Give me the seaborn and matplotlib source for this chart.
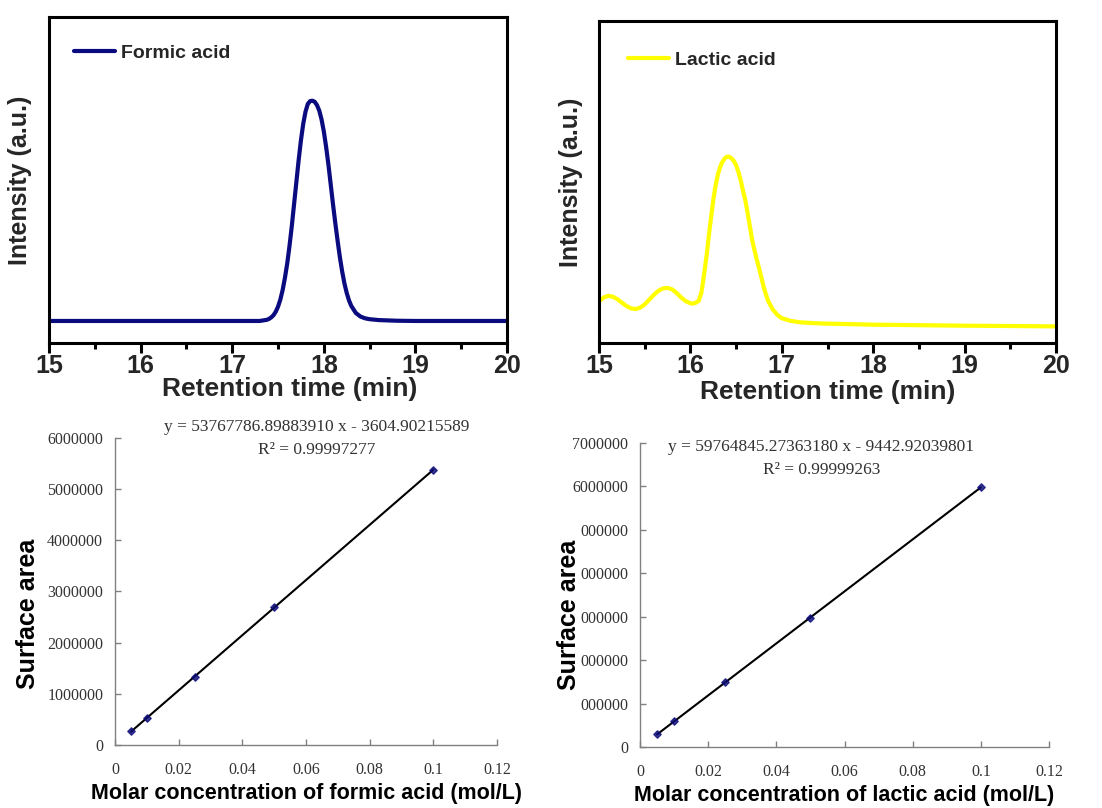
import matplotlib
matplotlib.use('Agg')
import matplotlib.pyplot as plt
import seaborn as sns

# chromatograms (intensity in a.u.)
formic_time = [15.0, 16.0, 17.0, 17.3, 17.375, 17.4, 17.425, 17.45, 17.475, 17.5, 17.525,
               17.55, 17.575, 17.6, 17.625, 17.65, 17.675, 17.7, 17.725, 17.75, 17.775,
               17.8, 17.825, 17.85, 17.875, 17.9, 17.925, 17.95, 17.975, 18.0, 18.025,
               18.05, 18.075, 18.1, 18.125, 18.15, 18.175, 18.2, 18.225, 18.25, 18.275,
               18.3, 18.35, 18.4, 18.45, 18.5, 18.6, 18.8, 19.0, 20.0]
formic_signal = [0, 0, 0, 0, 0.005, 0.009, 0.016, 0.026, 0.042, 0.065, 0.097,
                 0.14, 0.195, 0.26, 0.34, 0.43, 0.53, 0.63, 0.73, 0.82, 0.895,
                 0.95, 0.985, 0.998, 1.0, 0.995, 0.98, 0.955, 0.915, 0.86, 0.79,
                 0.71, 0.62, 0.53, 0.445, 0.365, 0.29, 0.225, 0.17, 0.127, 0.093,
                 0.068, 0.036, 0.02, 0.012, 0.008, 0.004, 0.001, 0, 0]

lactic_time = [15.0, 15.05, 15.1, 15.15, 15.2, 15.25, 15.3, 15.35, 15.4, 15.45, 15.5,
               15.55, 15.6, 15.65, 15.7, 15.75, 15.8, 15.85, 15.9, 15.95, 16.0, 16.03,
               16.06, 16.09, 16.12, 16.14, 16.16, 16.18, 16.2, 16.225, 16.25, 16.275,
               16.3, 16.325, 16.35, 16.375, 16.4, 16.425, 16.45, 16.475, 16.5, 16.525,
               16.55, 16.575, 16.6, 16.625, 16.65, 16.675, 16.7, 16.725, 16.75, 16.775,
               16.8, 16.825, 16.85, 16.9, 16.95, 17.0, 17.1, 17.2, 17.35, 17.5, 18.0,
               19.0, 20.0]
lactic_signal = [0.147, 0.17, 0.18, 0.175, 0.16, 0.14, 0.12, 0.106, 0.102, 0.11, 0.13,
                 0.158, 0.186, 0.21, 0.224, 0.227, 0.218, 0.196, 0.17, 0.148, 0.136, 0.134,
                 0.14, 0.15, 0.2, 0.27, 0.35, 0.43, 0.53, 0.64, 0.745, 0.83,
                 0.895, 0.94, 0.97, 0.99, 1.0, 1.0, 0.99, 0.975, 0.95, 0.91,
                 0.86, 0.8, 0.745, 0.67, 0.59, 0.51, 0.45, 0.395, 0.345, 0.29,
                 0.235, 0.19, 0.15, 0.1, 0.068, 0.048, 0.032, 0.024, 0.019, 0.016, 0.01,
                 0.004, 0]

# calibration data
conc = [0.005, 0.01, 0.025, 0.05, 0.1]
formic_area = [265000, 535000, 1320000, 2690000, 5380000]
lactic_area = [290000, 590000, 1490000, 2980000, 5980000]

formic_eq = 'y = 53767786.89883910 x - 3604.90215589'
formic_r2 = 'R\u00b2 = 0.99997277'
lactic_eq = 'y = 59764845.27363180 x - 9442.92039801'
lactic_r2 = 'R\u00b2 = 0.99999263'

time_ticks = [15, 16, 17, 18, 19, 20]
time_minor = [15.5, 16.5, 17.5, 18.5, 19.5]
conc_ticks = [0, 0.02, 0.04, 0.06, 0.08, 0.1, 0.12]
conc_labels = ['0', '0.02', '0.04', '0.06', '0.08', '0.1', '0.12']
formic_yticks = [0, 1000000, 2000000, 3000000, 4000000, 5000000, 6000000]
formic_ylabels = ['0', '1000000', '2000000', '3000000', '4000000', '5000000', '6000000']
lactic_yticks = [0, 1000000, 2000000, 3000000, 4000000, 5000000, 6000000, 7000000]
# leading digits are cut off in the source figure
lactic_ylabels = ['0', '000000', '000000', '000000', '000000', '000000', '6000000', '7000000']

sns.set_theme(style='white')
plt.rcParams['font.family'] = ['Liberation Sans', 'DejaVu Sans']

fig = plt.figure(figsize=(11.02, 8.08), dpi=100)


def chromatogram(ax, t, s, color, label, ylim, leg_xy, lab_x, xlab_xy):
    sns.lineplot(x=t, y=s, ax=ax, color=color, lw=3, label=label,
                 solid_joinstyle='round', solid_capstyle='round')
    ax.set_xlim(15, 20)
    ax.set_ylim(*ylim)
    ax.set_xticks(time_ticks)
    ax.set_xticks(time_minor, minor=True)
    ax.set_yticks([])
    ax.tick_params(axis='x', which='major', direction='out', bottom=True,
                   length=7, width=2.2, color='black', labelsize=18, pad=1)
    ax.tick_params(axis='x', which='minor', direction='out', bottom=True,
                   length=4, width=2.2, color='black')
    for lab in ax.get_xticklabels():
        lab.set_fontweight('bold')
    for sp in ax.spines.values():
        sp.set_linewidth(2.2)
        sp.set_color('black')
    ax.set_xlabel('Retention time (min)', fontsize=19, fontweight='bold')
    ax.xaxis.set_label_coords(*xlab_xy)
    ax.set_ylabel('Intensity (a.u.)', fontsize=18, fontweight='bold')
    ax.yaxis.set_label_coords(lab_x, 0.5)
    ax.legend(loc='upper left', bbox_to_anchor=leg_xy, frameon=False,
              borderpad=0, borderaxespad=0, handlelength=2.1, handletextpad=0.3,
              prop={'weight': 'bold', 'size': 14})


def calibration(ax, areas, yticks, ylabels, eq, r2, eq_xy, r2_xy, lab_x, lab_y, xlabel):
    sns.regplot(x=conc, y=areas, ax=ax, ci=None, marker='D',
                scatter_kws={'s': 14, 'color': '#0a0a78', 'zorder': 3},
                line_kws={'color': 'black', 'lw': 1.5})
    ax.set_xlim(0, 0.12)
    ax.set_ylim(0, yticks[-1])
    ax.set_xticks(conc_ticks)
    ax.set_xticklabels(conc_labels)
    ax.set_yticks(yticks)
    ax.set_yticklabels(ylabels)
    for lab in ax.get_xticklabels() + ax.get_yticklabels():
        lab.set_fontfamily('Liberation Serif')
    ax.tick_params(axis='x', direction='in', bottom=True, length=4, width=1,
                   color='#808080', labelsize=11.5, labelcolor='#333333', pad=12)
    ax.tick_params(axis='y', direction='in', left=True, length=4, width=1,
                   color='#808080', labelsize=11.5, labelcolor='#333333', pad=8.5)
    ax.spines['top'].set_visible(False)
    ax.spines['right'].set_visible(False)
    for side in ['left', 'bottom']:
        ax.spines[side].set_color('#808080')
        ax.spines[side].set_linewidth(1)
    ax.text(eq_xy[0], eq_xy[1], eq, transform=ax.transAxes, ha='center', va='center',
            fontsize=12.5, family='Liberation Serif', color='#333333', clip_on=False)
    ax.text(r2_xy[0], r2_xy[1], r2, transform=ax.transAxes, ha='center', va='center',
            fontsize=12.5, family='Liberation Serif', color='#333333', clip_on=False)
    ax.set_xlabel(xlabel, fontsize=15.5, fontweight='bold', color='black')
    ax.xaxis.set_label_coords(0.5, -0.125)
    ax.set_ylabel('Surface area', fontsize=18, fontweight='bold', color='black')
    ax.yaxis.set_label_coords(lab_x, lab_y)


ax1 = fig.add_axes([0.0445, 0.5755, 0.4156, 0.4035])
chromatogram(ax1, formic_time, formic_signal, '#0b0b80', 'Formic acid',
             (-0.1, 1.38), (0.055, 0.915), -0.037, (0.526, -0.105))

ax2 = fig.add_axes([0.5436, 0.5755, 0.4147, 0.3985])
chromatogram(ax2, lactic_time, lactic_signal, '#ffff00', 'Lactic acid',
             (-0.098, 1.8), (0.063, 0.905), -0.035, (0.5, -0.115))

ax3 = fig.add_axes([0.1044, 0.078, 0.3466, 0.38])
calibration(ax3, formic_area, formic_yticks, formic_ylabels, formic_eq, formic_r2,
            (0.529, 1.036), (0.529, 0.961), -0.196, 0.427,
            'Molar concentration of formic acid (mol/L)')

ax4 = fig.add_axes([0.5808, 0.0755, 0.3711, 0.3762])
calibration(ax4, lactic_area, lactic_yticks, lactic_ylabels, lactic_eq, lactic_r2,
            (0.443, 0.987), (0.443, 0.911), -0.144, 0.436,
            'Molar concentration of lactic acid (mol/L)')

fig.savefig('out.png', dpi=100, facecolor='white')
